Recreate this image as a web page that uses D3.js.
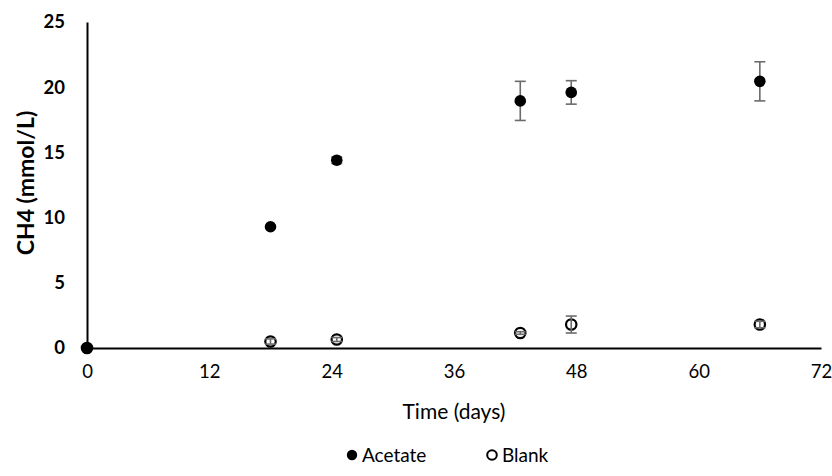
<!DOCTYPE html>
<html>
<head>
<meta charset="utf-8">
<script src="https://cdn.jsdelivr.net/npm/d3@7"></script>
<style>
  body { margin: 0; background: #fff; }
  text { font-family: Lato, "Open Sans", sans-serif; fill: #000; }
</style>
</head>
<body>
<div id="chart"></div>
<script>
// data
const days = [0, 18, 24.5, 42.5, 47.5, 66];
const acetate = [0, 9.3, 14.4, 18.95, 19.6, 20.45];
const acetateErr = [0, 0.1, 0.25, 1.5, 0.9, 1.5];
const blank = [0, 0.5, 0.65, 1.15, 1.8, 1.8];
const blankErr = [0, 0.2, 0.15, 0.1, 0.65, 0.25];
const xTicks = [0, 12, 24, 36, 48, 60, 72];
const yTicks = [0, 5, 10, 15, 20, 25];

const W = 832, H = 476;
const m = { top: 22, right: 11, bottom: 128, left: 87 };
const w = W - m.left - m.right;
const h = H - m.top - m.bottom;

const svg = d3.select("#chart").append("svg")
    .attr("width", W).attr("height", H);
const g = svg.append("g").attr("transform", `translate(${m.left},${m.top})`);

const x = d3.scaleLinear().domain([0, 72]).range([0, w]);
const y = d3.scaleLinear().domain([0, 25]).range([h, 0]);

// axes (no tick marks)
const xAxis = g.append("g").attr("transform", `translate(0,${h})`)
    .call(d3.axisBottom(x).tickValues(xTicks).tickSize(0).tickPadding(17));
xAxis.select(".domain").attr("stroke", "#000").attr("stroke-width", 2);
xAxis.selectAll("text").style("font-size", "18.5px").style("font-family", "Lato, sans-serif");

const yAxis = g.append("g")
    .call(d3.axisLeft(y).tickValues(yTicks).tickSize(0).tickPadding(22));
yAxis.select(".domain").attr("stroke", "#000").attr("stroke-width", 2);
yAxis.selectAll("text").style("font-size", "18.5px").style("font-weight", "bold")
    .style("font-family", "Lato, sans-serif");

// axis titles
g.append("text").attr("x", w / 2).attr("y", h + 71)
    .attr("text-anchor", "middle").style("font-size", "21px").text("Time (days)");
g.append("text").attr("transform", "rotate(-90)")
    .attr("x", -h / 2 + 2).attr("y", -53)
    .attr("text-anchor", "middle").style("font-size", "23px").style("font-weight", "bold")
    .text("CH4 (mmol/L)");

// error bars
function errBars(vals, errs, cls) {
    const data = days.map((d, i) => ({ d, v: vals[i], e: errs[i] })).filter(p => p.e > 0);
    const eg = g.selectAll("." + cls).data(data).enter().append("g").attr("class", cls)
        .attr("stroke", "#6b6b6b").attr("stroke-width", 1.6);
    eg.append("line")
        .attr("x1", p => x(p.d)).attr("x2", p => x(p.d))
        .attr("y1", p => y(p.v + p.e)).attr("y2", p => y(p.v - p.e));
    eg.append("line")
        .attr("x1", p => x(p.d) - 5.5).attr("x2", p => x(p.d) + 5.5)
        .attr("y1", p => y(p.v + p.e)).attr("y2", p => y(p.v + p.e));
    eg.append("line")
        .attr("x1", p => x(p.d) - 5.5).attr("x2", p => x(p.d) + 5.5)
        .attr("y1", p => y(p.v - p.e)).attr("y2", p => y(p.v - p.e));
}

// blank series: open circles
g.selectAll(".blank").data(days).enter().append("circle")
    .attr("class", "blank")
    .attr("cx", d => x(d)).attr("cy", (d, i) => y(blank[i])).attr("r", 5.2)
    .attr("fill", "#fff").attr("stroke", "#000").attr("stroke-width", 2.2);
errBars(blank, blankErr, "err-b");

// acetate series: filled circles
errBars(acetate, acetateErr, "err-a");
g.selectAll(".acetate").data(days).enter().append("circle")
    .attr("class", "acetate")
    .attr("cx", d => x(d)).attr("cy", (d, i) => y(acetate[i])).attr("r", 5.8)
    .attr("fill", "#000");

// legend
const lg = svg.append("g").attr("transform", `translate(0,455)`);
lg.append("circle").attr("cx", 352).attr("cy", 0).attr("r", 5.2).attr("fill", "#000");
lg.append("text").attr("x", 362).attr("y", 6.5).style("font-size", "19px").text("Acetate");
lg.append("circle").attr("cx", 492).attr("cy", 0).attr("r", 4.8)
    .attr("fill", "#fff").attr("stroke", "#000").attr("stroke-width", 2);
lg.append("text").attr("x", 502).attr("y", 6.5).style("font-size", "19px").text("Blank");
</script>
</body>
</html>
